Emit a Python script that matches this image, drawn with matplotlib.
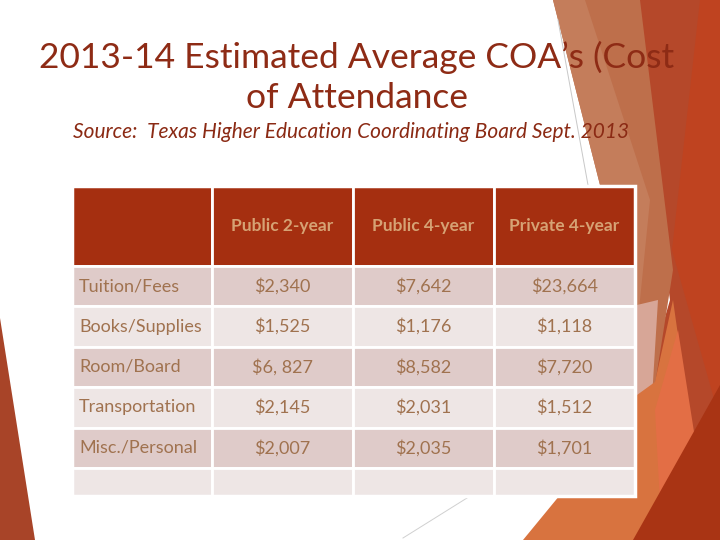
import matplotlib
matplotlib.use("Agg")
import matplotlib.pyplot as plt
from matplotlib.patches import Polygon
from matplotlib.table import Table

# ---- data ----
title_line1 = "2013-14 Estimated Average COA\u2019s (Cost"
title_line2 = "of Attendance"
subtitle = "Source:  Texas Higher Education Coordinating Board Sept. 2013"
columns = ["Public 2-year", "Public 4-year", "Private 4-year"]
categories = ["Tuition/Fees", "Books/Supplies", "Room/Board", "Transportation", "Misc./Personal"]
public_2yr = ["$2,340", "$1,525", "$6, 827", "$2,145", "$2,007"]
public_4yr = ["$7,642", "$1,176", "$8,582", "$2,031", "$2,035"]
private_4yr = ["$23,664", "$1,118", "$7,720", "$1,512", "$1,701"]

plt.rcParams['font.family'] = ['Lato', 'DejaVu Sans']

fig = plt.figure(figsize=(7.2, 5.4), dpi=100)
fig.patch.set_facecolor("white")

# ---- background decoration (pixel coords, y downward) ----
bg = fig.add_axes([0, 0, 1, 1])
bg.set_xlim(0, 720)
bg.set_ylim(540, 0)
bg.axis("off")

shapes = [
    ([(630, 0), (720, 0), (720, 540), (600, 540), (670, 300)], "#B5482A"),
    ([(700, 0), (720, 0), (720, 420), (672, 250)], "#BF4320"),
    ([(553, 0), (640, 0), (673, 270), (655, 385), (637, 372), (600, 185)], "#BE6F4B"),
    ([(553, 0), (585, 0), (650, 200), (637, 330), (600, 185)], "#C47D5B"),
    ([(637, 305), (658, 300), (652, 398), (637, 400)], "#D7A697"),
    ([(523, 540), (560, 495), (637, 395), (655, 382), (673, 300), (690, 420), (690, 540)], "#D8733F"),
    ([(655, 410), (678, 330), (700, 470), (680, 540), (662, 540)], "#E36E45"),
    ([(633, 540), (720, 385), (720, 540)], "#A93414"),
    ([(0, 318), (35, 540), (0, 540)], "#A84428"),
]
for pts, col in shapes:
    bg.add_patch(Polygon(pts, closed=True, facecolor=col, edgecolor="none", zorder=1))

bg.plot([558, 588], [20, 185], color="#C8C8C8", lw=0.7, zorder=2)
bg.plot([403, 467], [538, 498], color="#D0D0D0", lw=0.7, zorder=2)

# ---- title texts ----
bg.text(357, 57, title_line1, ha="center", va="center",
        fontsize=25.5, color="#8E2B15", zorder=5)
bg.text(357, 98, title_line2, ha="center", va="center",
        fontsize=25.5, color="#8E2B15", zorder=5)
bg.text(73, 132, subtitle, ha="left", va="center", fontsize=15, style="italic",
        color="#8B2A14", zorder=5)

# ---- table ----
left, right, top, bottom = 72, 635, 186, 496
tax = fig.add_axes([left / 720, 1 - bottom / 540, (right - left) / 720, (bottom - top) / 540])
tax.axis("off")

tbl = Table(tax, bbox=[0, 0, 1, 1])
col_w = [140, 141, 141, 141]
row_h = [80] + [40.4] * len(categories) + [28]
header_bg = "#A52F10"
odd_bg = "#DFCBC9"
even_bg = "#EEE6E5"
header_fc = "#D6A274"
body_fc = "#A0724F"

hdr = [""] + columns
for j, txt in enumerate(hdr):
    c = tbl.add_cell(0, j, col_w[j], row_h[0], text=txt, loc="center",
                     facecolor=header_bg, edgecolor="white")
    c.get_text().set_color(header_fc)
    c.get_text().set_fontsize(12.5)
    c.get_text().set_fontweight("bold")

series = [public_2yr, public_4yr, private_4yr]
for i, cat in enumerate(categories):
    fc = odd_bg if i % 2 == 0 else even_bg
    c = tbl.add_cell(i + 1, 0, col_w[0], row_h[i + 1], text=cat, loc="left",
                     facecolor=fc, edgecolor="white")
    c.PAD = 0.05
    c.get_text().set_color(body_fc)
    c.get_text().set_fontsize(13)
    for j, s in enumerate(series):
        c = tbl.add_cell(i + 1, j + 1, col_w[j + 1], row_h[i + 1], text=s[i], loc="center",
                         facecolor=fc, edgecolor="white")
        c.get_text().set_color(body_fc)
        c.get_text().set_fontsize(13)

last = len(categories) + 1
for j in range(4):
    tbl.add_cell(last, j, col_w[j], row_h[-1], text="", facecolor=even_bg, edgecolor="white")

for cell in tbl.get_celld().values():
    cell.set_linewidth(2)
tbl.auto_set_font_size(False)
tax.add_table(tbl)

tax.add_patch(plt.Rectangle((0, 0), 1, 1, transform=tax.transAxes, fill=False,
                            edgecolor="white", lw=2.5, zorder=10, clip_on=False))

fig.savefig("out.png", dpi=100, facecolor="white")
